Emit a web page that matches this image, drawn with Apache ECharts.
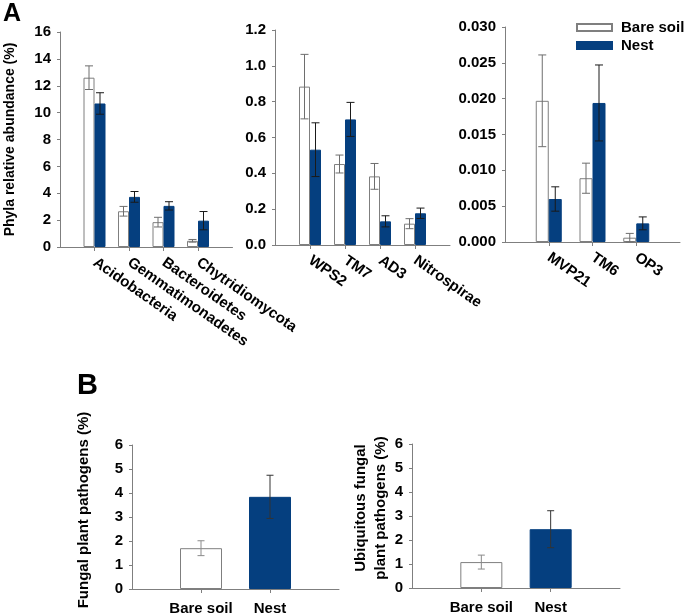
<!DOCTYPE html>
<html><head><meta charset="utf-8">
<script src="https://cdn.jsdelivr.net/npm/echarts@6/dist/echarts.min.js"></script>
<style>html,body{margin:0;padding:0;background:#fff}#c{width:685px;height:615px}</style>
</head><body><div id="c"></div>
<script>
// ---------- data ----------
const catsA1 = ['Acidobacteria', 'Gemmatimonadetes', 'Bacteroidetes', 'Chytridiomycota'];
const bareA1 = [12.6, 2.66, 1.85, 0.46];
const bareA1Err = [0.88, 0.36, 0.36, 0.1];
const nestA1 = [10.68, 3.73, 3.06, 1.96];
const nestA1Err = [0.8, 0.4, 0.31, 0.68];

const catsA2 = ['WPS2', 'TM7', 'AD3', 'Nitrospirae'];
const bareA2 = [0.884, 0.452, 0.383, 0.119];
const bareA2Err = [0.18, 0.05, 0.072, 0.028];
const nestA2 = [0.532, 0.701, 0.132, 0.177];
const nestA2Err = [0.15, 0.095, 0.031, 0.029];

const catsA3 = ['MVP21', 'TM6', 'OP3'];
const bareA3 = [0.0197, 0.0089, 0.0006];
const bareA3Err = [0.0064, 0.0021, 0.0006];
const nestA3 = [0.0060, 0.0194, 0.0026];
const nestA3Err = [0.0017, 0.0053, 0.0009];

const catsB = ['Bare soil', 'Nest'];
const fungalB1 = [1.70, 3.84];
const fungalB1Err = [0.31, 0.90];
const ubiqB2 = [1.08, 2.45];
const ubiqB2Err = [0.29, 0.77];

const ticksA1 = {max: 16, interval: 2, dec: 0};
const ticksA2 = {max: 1.2, interval: 0.2, dec: 1};
const ticksA3 = {max: 0.03, interval: 0.005, dec: 3};
const ticksB = {max: 6, interval: 1, dec: 0};

// ---------- styles ----------
const FONT = '"Liberation Sans", Arial, sans-serif';
const BLUE = '#053f7f';
const AXIS = '#7f7f7f';
const pad = a => ['', ...a, ''];
const padV = a => ['-', ...a, '-'];

function xAxis(gi, cats, rotate, fs, margin) {
  const data = pad(cats);
  const n = data.length;
  return {
    type: 'category', gridIndex: gi, data: data, boundaryGap: false,
    axisLine: {lineStyle: {color: AXIS, width: 1}},
    axisTick: {show: true, length: 4, lineStyle: {color: AXIS}, interval: (i) => i > 0 && i < n - 1},
    axisLabel: {interval: 0, rotate: rotate, margin: margin, color: '#000', fontWeight: 'bold',
      fontSize: fs, fontFamily: FONT},
    splitLine: {show: false}
  };
}
function yAxis(gi, t, name, nameGap, nfs, npad) {
  return {
    type: 'value', gridIndex: gi, min: 0, max: t.max, interval: t.interval,
    axisLine: {show: true, lineStyle: {color: AXIS, width: 1}},
    axisTick: {show: true, length: 3, lineStyle: {color: AXIS}},
    axisLabel: {color: '#000', fontWeight: 'bold', fontSize: 15, fontFamily: FONT, margin: 9,
      formatter: v => v.toFixed(t.dec)},
    splitLine: {show: false},
    name: name || '', nameLocation: 'middle', nameRotate: 90, nameGap: nameGap || 0,
    nameTextStyle: {color: '#000', fontWeight: 'bold', fontSize: nfs || 14, fontFamily: FONT, lineHeight: 20,
      padding: npad || 0}
  };
}
function errSeries(gi, vals, errs, offset, color) {
  return {
    type: 'custom', xAxisIndex: gi, yAxisIndex: gi, z: 5, silent: true,
    data: vals.map((v, i) => [i + 1, v - errs[i], v + errs[i]]),
    renderItem: function (params, api) {
      const top = api.coord([api.value(0), api.value(2)]);
      const bot = api.coord([api.value(0), api.value(1)]);
      const x = top[0] + offset, h = 4;
      const st = {stroke: color, lineWidth: 1};
      return {type: 'group', children: [
        {type: 'line', shape: {x1: x, y1: top[1], x2: x, y2: bot[1]}, style: st},
        {type: 'line', shape: {x1: x - h, y1: top[1], x2: x + h, y2: top[1]}, style: st},
        {type: 'line', shape: {x1: x - h, y1: bot[1], x2: x + h, y2: bot[1]}, style: st}
      ]};
    }
  };
}
const bareStyle = {color: '#ffffff', borderColor: AXIS, borderWidth: 1};
const nestStyle = {color: BLUE, borderColor: BLUE, borderWidth: 1};

function groupSeries(gi, bare, bareE, nest, nestE, bw) {
  return [
    {name: 'Bare soil', type: 'bar', xAxisIndex: gi, yAxisIndex: gi, data: padV(bare), barWidth: bw, barGap: '0%', itemStyle: bareStyle},
    {name: 'Nest', type: 'bar', xAxisIndex: gi, yAxisIndex: gi, data: padV(nest), barWidth: bw, barGap: '0%', itemStyle: nestStyle},
    errSeries(gi, bare, bareE, -bw / 2, '#6e6e6e'),
    errSeries(gi, nest, nestE, bw / 2, '#1a1a1a')
  ];
}
function singleSeries(gi, vals, errs) {
  const d = padV(vals).map((v, i) => i === 1 ? {value: v, itemStyle: bareStyle} : (i === 2 ? {value: v, itemStyle: nestStyle} : v));
  const e = vals.map((v, i) => [i + 1, v - errs[i], v + errs[i]]);
  return [
    {type: 'bar', xAxisIndex: gi, yAxisIndex: gi, data: d, barWidth: 42},
    {
      type: 'custom', xAxisIndex: gi, yAxisIndex: gi, z: 5, silent: true, data: e,
      renderItem: function (params, api) {
        const top = api.coord([api.value(0), api.value(2)]);
        const bot = api.coord([api.value(0), api.value(1)]);
        const x = top[0], h = 3.5;
        const st = {stroke: params.dataIndex === 0 ? '#8a8a8a' : '#333333', lineWidth: 1};
        return {type: 'group', children: [
          {type: 'line', shape: {x1: x, y1: top[1], x2: x, y2: bot[1]}, style: st},
          {type: 'line', shape: {x1: x - h, y1: top[1], x2: x + h, y2: top[1]}, style: st},
          {type: 'line', shape: {x1: x - h, y1: bot[1], x2: x + h, y2: bot[1]}, style: st}
        ]};
      }
    }
  ];
}

const chart = echarts.init(document.getElementById('c'), null, {renderer: 'canvas'});
chart.setOption({
  animation: false,
  backgroundColor: '#fff',
  textStyle: {fontFamily: FONT},
  grid: [
    {left: 60, top: 32, width: 172.5, height: 215, outerBoundsMode: 'none'},
    {left: 275, top: 30, width: 175, height: 215, outerBoundsMode: 'none'},
    {left: 505, top: 27, width: 175, height: 215, outerBoundsMode: 'none'},
    {left: 132, top: 445, width: 207, height: 144, outerBoundsMode: 'none'},
    {left: 412, top: 444, width: 208, height: 144, outerBoundsMode: 'none'}
  ],
  xAxis: [
    xAxis(0, catsA1, -35, 15, 14),
    xAxis(1, catsA2, -35, 15, 14),
    xAxis(2, catsA3, -35, 15, 14),
    xAxis(3, catsB, 0, 15, 12),
    xAxis(4, catsB, 0, 15, 12)
  ],
  yAxis: [
    yAxis(0, ticksA1, 'Phyla relative abundance (%)', 40, 14),
    yAxis(1, ticksA2),
    yAxis(2, ticksA3),
    yAxis(3, ticksB, 'Fungal plant pathogens (%)', 38, 15, [0, 0, 0, 14]),
    yAxis(4, ticksB, 'Ubiquitous fungal\nplant pathogens (%)', 21, 15, [0, 0, 0, 16])
  ],
  legend: {
    data: ['Bare soil', 'Nest'], orient: 'vertical', left: 576, top: 20, padding: 0,
    itemWidth: 35, itemHeight: 7, itemGap: 3, icon: 'rect',
    textStyle: {color: '#000', fontWeight: 'bold', fontSize: 15, fontFamily: FONT, lineHeight: 15, padding: [0, 0, 0, 4]}
  },
  graphic: [
    {type: 'text', left: 3, top: 2, style: {text: 'A', font: 'bold 25px ' + FONT, fill: '#000'}},
    {type: 'text', left: 77, top: 371, style: {text: 'B', font: 'bold 29px ' + FONT, fill: '#000'}}
  ],
  series: [
    ...groupSeries(0, bareA1, bareA1Err, nestA1, nestA1Err, 11),
    ...groupSeries(1, bareA2, bareA2Err, nestA2, nestA2Err, 11),
    ...groupSeries(2, bareA3, bareA3Err, nestA3, nestA3Err, 13),
    ...singleSeries(3, fungalB1, fungalB1Err),
    ...singleSeries(4, ubiqB2, ubiqB2Err)
  ]
});
</script></body></html>
